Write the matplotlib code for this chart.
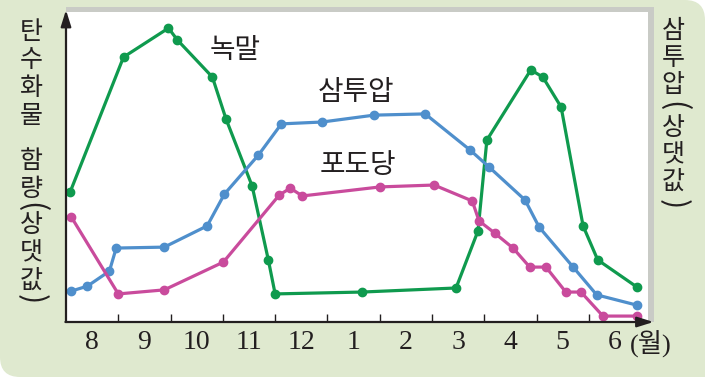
import matplotlib
matplotlib.use('Agg')
import matplotlib.pyplot as plt
from matplotlib.patches import FancyBboxPatch, Rectangle

plt.rcParams['font.family'] = ['Noto Sans CJK KR', 'DejaVu Sans']

# 월 (x는 8월 시작 = 0 기준, 1칸 = 1달)
months = ['8', '9', '10', '11', '12', '1', '2', '3', '4', '5', '6']

# 녹말
starch_x = [0.08, 1.10, 1.96, 2.13, 2.80, 3.06, 3.56, 3.87, 4.00, 5.66, 7.46,
            7.88, 8.05, 8.89, 9.12, 9.47, 9.89, 10.17, 10.92]
starch_y = [41.7, 84.9, 94.2, 90.4, 78.5, 65.1, 43.6, 19.9, 9.0, 9.6, 10.9,
            29.2, 58.3, 80.8, 78.5, 68.9, 30.8, 19.9, 11.2]
# 삼투압
osm_x = [0.10, 0.41, 0.83, 0.96, 1.88, 2.70, 3.03, 3.68, 4.12, 4.90, 5.89,
         6.87, 7.73, 8.09, 8.78, 9.05, 9.70, 10.15, 10.92]
osm_y = [9.9, 11.5, 16.3, 23.7, 24.0, 30.8, 41.0, 53.5, 63.5, 64.1, 66.3,
         66.7, 55.1, 49.7, 39.1, 30.4, 17.6, 8.7, 5.4]
# 포도당
glu_x = [0.10, 1.00, 1.88, 3.01, 4.08, 4.29, 4.52, 6.01, 7.04, 7.77, 7.90,
         8.20, 8.55, 8.87, 9.18, 9.56, 9.85, 10.27, 10.92]
glu_y = [33.7, 9.0, 10.3, 19.2, 40.7, 42.9, 40.4, 43.3, 43.9, 38.8, 32.4,
         28.5, 23.7, 17.6, 17.6, 9.6, 9.6, 1.9, 1.9]

W, H = 705, 377
fig = plt.figure(figsize=(W / 100, H / 100), dpi=100)
fig.patch.set_facecolor('white')
tr = fig.dpi_scale_trans
bg = '#dfe9cf'
ink = '#231f20'

# 배경 (오른쪽 위, 왼쪽 아래 모서리만 둥글게)
fig.patches.append(FancyBboxPatch((0, 0), W / 100, H / 100,
                                  boxstyle='round,pad=0,rounding_size=0.2',
                                  fc=bg, ec='none', transform=tr, zorder=-5))
fig.patches.append(Rectangle((0, H / 100 - 0.3), 0.3, 0.3, fc=bg, ec='none',
                             transform=tr, zorder=-5))
fig.patches.append(Rectangle((W / 100 - 0.3, 0), 0.3, 0.3, fc=bg, ec='none',
                             transform=tr, zorder=-5))

# 그래프 판 (흰색 + 살짝 그림자)
def px(x, y):
    return x / 100, (H - y) / 100

fig.patches.append(Rectangle(px(66, 322), 5.88, 3.15, fc='#c9cbc6', ec='none',
                             transform=tr, zorder=-4))
fig.patches.append(Rectangle(px(66, 322), 5.82, 3.10, fc='white', ec='none',
                             transform=tr, zorder=-3))

ax = fig.add_axes([66 / W, (H - 322) / H, (650 - 66) / W, 312 / H])
ax.set_facecolor('none')
ax.set_xlim(0, 11.17)
ax.set_ylim(0, 100)
for s in ax.spines.values():
    s.set_visible(False)

# 축 화살표
arw = dict(arrowstyle='-|>,head_length=0.7,head_width=0.22', color=ink,
           lw=1.6, shrinkA=0, shrinkB=0, mutation_scale=14)
ax.annotate('', xy=(0, 1.0), xytext=(0, 0), xycoords='axes fraction',
            arrowprops=arw, annotation_clip=False)
ax.annotate('', xy=(1.006, 0), xytext=(-0.001, 0), xycoords='axes fraction',
            arrowprops=arw, annotation_clip=False)

ax.set_yticks([])
ax.set_xticks(range(1, 11))
ax.set_xticklabels([])
ax.tick_params(axis='x', which='major', direction='in', length=6, width=1,
               color=ink)
ax.set_xticks([i + 0.5 for i in range(len(months))], minor=True)
ax.set_xticklabels(months, minor=True, family=['Liberation Serif'],
                   fontsize=20, color=ink)
ax.tick_params(axis='x', which='minor', length=0, pad=6)

lw, ms = 2.3, 6
ax.plot(starch_x, starch_y, '-o', color='#0f9a4e', lw=lw, ms=ms, clip_on=False)
ax.plot(osm_x, osm_y, '-o', color='#4f8fcc', lw=lw, ms=ms, clip_on=False)
ax.plot(glu_x, glu_y, '-o', color='#c94b9c', lw=lw, ms=ms, clip_on=False)

ax.text(3.24, 87.2, '녹말', fontsize=20, color=ink, ha='center', va='center')
ax.text(5.55, 73.7, '삼투압', fontsize=20, color=ink, ha='center', va='center')
ax.text(5.59, 50.3, '포도당', fontsize=20, color=ink, ha='center', va='center')

fig.text(651 / W, (H - 344) / H, '(월)', family=['Liberation Serif', 'Noto Sans CJK KR'],
         fontsize=19, color=ink, ha='center', va='center')


# 세로 글자 쌓기
def stack(text, x, y0, step, size, paren=0.3, space=0.6):
    adv = {'(': paren, ')': paren, ' ': space}
    y = y0
    prev = None
    for ch in text:
        a = adv.get(ch, 1.0)
        if prev is not None:
            y += (prev + a) / 2 * step
        prev = a
        if ch == ' ':
            continue
        if ch in '()':
            fig.text(x / W, (H - y) / H, ch, fontsize=size + 4, color=ink,
                     ha='center', va='center', rotation=-90)
        else:
            fig.text(x / W, (H - y) / H, ch, fontsize=size, color=ink,
                     ha='center', va='center')


stack('탄수화물 함량(상댓값)', 31, 32, 28, 18, paren=0.3, space=0.6)
stack('삼투압(상댓값)', 673, 31, 27, 18, paren=0.6)

fig.savefig('out.png', dpi=100)
